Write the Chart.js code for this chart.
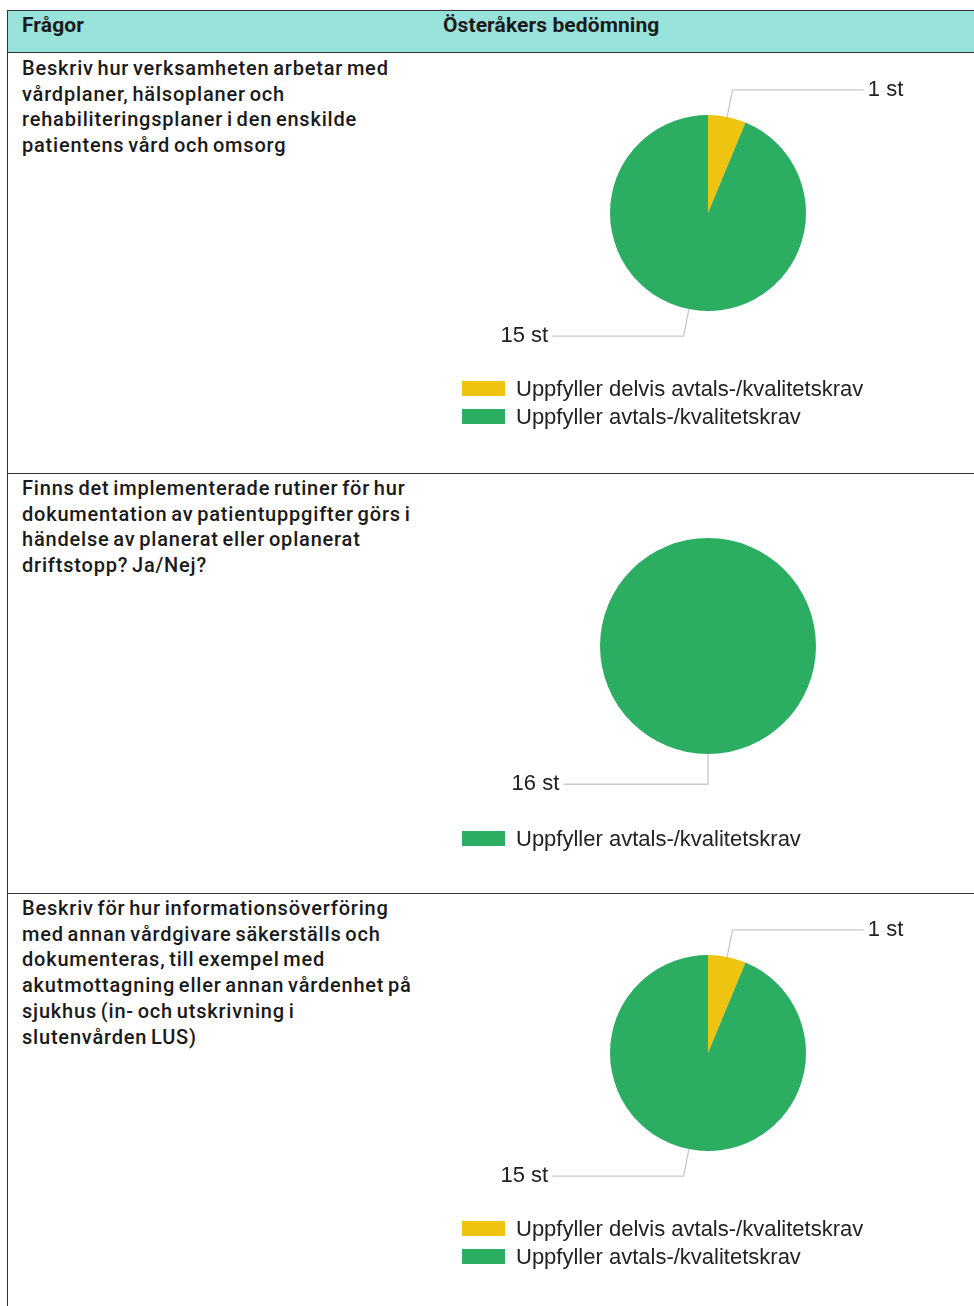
<!DOCTYPE html>
<html>
<head>
<meta charset="utf-8">
<script src="https://cdn.jsdelivr.net/npm/chart.js@4"></script>
<style>
  body { margin: 0; background: #fff; }
  #page { position: relative; width: 974px; height: 1306px; overflow: hidden; font-family: Roboto, sans-serif; color: #1a1a1a; }
  .hline { position: absolute; left: 7px; right: 0; height: 1px; background: #333; }
  .vline { position: absolute; left: 7px; top: 10px; bottom: 0; width: 1px; background: #333; }
  .head { position: absolute; left: 8px; right: 0; top: 11px; height: 41px; background: #98e2dc; }
  .head span { position: absolute; top: 2px; font-weight: 700; font-size: 21px; letter-spacing: 0.1px; }
  .q { position: absolute; left: 22px; font-weight: 500; font-size: 20px; line-height: 25.7px; letter-spacing: 0.8px; word-spacing: -2px; white-space: nowrap; }
  canvas { position: absolute; left: 420px; }
</style>
</head>
<body>
<div id="page">
  <div class="head"><span style="left:14px">Frågor</span><span style="left:435px">Österåkers bedömning</span></div>
  <div class="hline" style="top:10px"></div>
  <div class="hline" style="top:52px"></div>
  <div class="hline" style="top:473px"></div>
  <div class="hline" style="top:893px"></div>
  <div class="vline"></div>
  <div class="q" id="q1" style="top:56px"></div>
  <div class="q" id="q2" style="top:476px"></div>
  <div class="q" id="q3" style="top:896px"></div>
  <canvas id="c1" width="554" height="420" style="top:53px"></canvas>
  <canvas id="c2" width="554" height="419" style="top:474px"></canvas>
  <canvas id="c3" width="554" height="412" style="top:894px"></canvas>
</div>
<script>
// questions, one entry per line as laid out in the table
const q1Lines = ['Beskriv hur verksamheten arbetar med', 'vårdplaner, hälsoplaner och', 'rehabiliteringsplaner i den enskilde', 'patientens vård och omsorg'];
const q2Lines = ['Finns det implementerade rutiner för hur', 'dokumentation av patientuppgifter görs i', 'händelse av planerat eller oplanerat', 'driftstopp? Ja/Nej?'];
const q3Lines = ['Beskriv för hur informationsöverföring', 'med annan vårdgivare säkerställs och', 'dokumenteras, till exempel med', 'akutmottagning eller annan vårdenhet på', 'sjukhus (in- och utskrivning i', 'slutenvården LUS)'];

// pie data
const q1Categories = ['Uppfyller delvis avtals-/kvalitetskrav', 'Uppfyller avtals-/kvalitetskrav'];
const q1Values = [1, 15];
const q2Categories = ['Uppfyller avtals-/kvalitetskrav'];
const q2Values = [16];
const q3Categories = ['Uppfyller delvis avtals-/kvalitetskrav', 'Uppfyller avtals-/kvalitetskrav'];
const q3Values = [1, 15];
const unit = ' st';

const YELLOW = '#efc411';
const GREEN = '#2bae62';
const colorFor = { 'Uppfyller delvis avtals-/kvalitetskrav': YELLOW, 'Uppfyller avtals-/kvalitetskrav': GREEN };

document.getElementById('q1').innerHTML = q1Lines.join('<br>');
document.getElementById('q2').innerHTML = q2Lines.join('<br>');
document.getElementById('q3').innerHTML = q3Lines.join('<br>');

const labelFont = '22px "Liberation Sans", Arial, sans-serif';

// leader lines + value labels + legend, drawn after the pie
const calloutPlugin = {
  id: 'callouts',
  afterDraw(chart, args, opts) {
    const ctx = chart.ctx;
    const meta = chart.getDatasetMeta(0);
    const values = chart.data.datasets[0].data;
    ctx.save();
    ctx.font = labelFont;
    ctx.textBaseline = 'middle';
    meta.data.forEach((arc, i) => {
      const p = arc.getProps(['x', 'y', 'startAngle', 'endAngle', 'outerRadius'], true);
      const mid = (p.startAngle + p.endAngle) / 2;
      const r = p.outerRadius;
      const x0 = p.x + Math.cos(mid) * r, y0 = p.y + Math.sin(mid) * r;
      const x1 = p.x + Math.cos(mid) * r * 1.28, y1 = p.y + Math.sin(mid) * r * 1.28;
      const right = Math.cos(mid) > 0.01;
      const x2 = x1 + (right ? 1 : -1) * r * 1.34;
      ctx.strokeStyle = '#c9c9c9';
      ctx.lineWidth = 1.3;
      ctx.beginPath();
      ctx.moveTo(x0, y0);
      ctx.lineTo(x1, y1);
      ctx.lineTo(x2, y1);
      ctx.stroke();
      ctx.fillStyle = '#222';
      ctx.textAlign = right ? 'left' : 'right';
      ctx.fillText(values[i] + unit, x2 + (right ? 4 : -4), y1);
    });
    // legend
    const c = meta.data[0];
    let y = c.y + opts.legendTop;
    chart.data.labels.forEach((lab, i) => {
      ctx.fillStyle = chart.data.datasets[0].backgroundColor[i];
      ctx.fillRect(opts.legendLeft, y, 43, 15);
      ctx.fillStyle = '#222';
      ctx.textAlign = 'left';
      ctx.fillText(lab, opts.legendLeft + 54, y + 9);
      y += 28;
    });
    ctx.restore();
  }
};

function makePie(id, categories, values, pad, legendTop) {
  return new Chart(document.getElementById(id), {
    type: 'pie',
    data: {
      labels: categories,
      datasets: [{
        data: values,
        backgroundColor: categories.map(c => colorFor[c]),
        borderWidth: 0
      }]
    },
    options: {
      responsive: false,
      animation: false,
      layout: { padding: pad },
      plugins: {
        legend: { display: false },
        tooltip: { enabled: false },
        callouts: { legendLeft: 42, legendTop: legendTop }
      }
    },
    plugins: [calloutPlugin]
  });
}

makePie('c1', q1Categories, q1Values, { top: 62, bottom: 162, left: 190, right: 168 }, 168);
makePie('c2', q2Categories, q2Values, { top: 64, bottom: 139, left: 180, right: 158 }, 185);
makePie('c3', q3Categories, q3Values, { top: 61, bottom: 155, left: 190, right: 168 }, 168);
</script>
</body>
</html>
